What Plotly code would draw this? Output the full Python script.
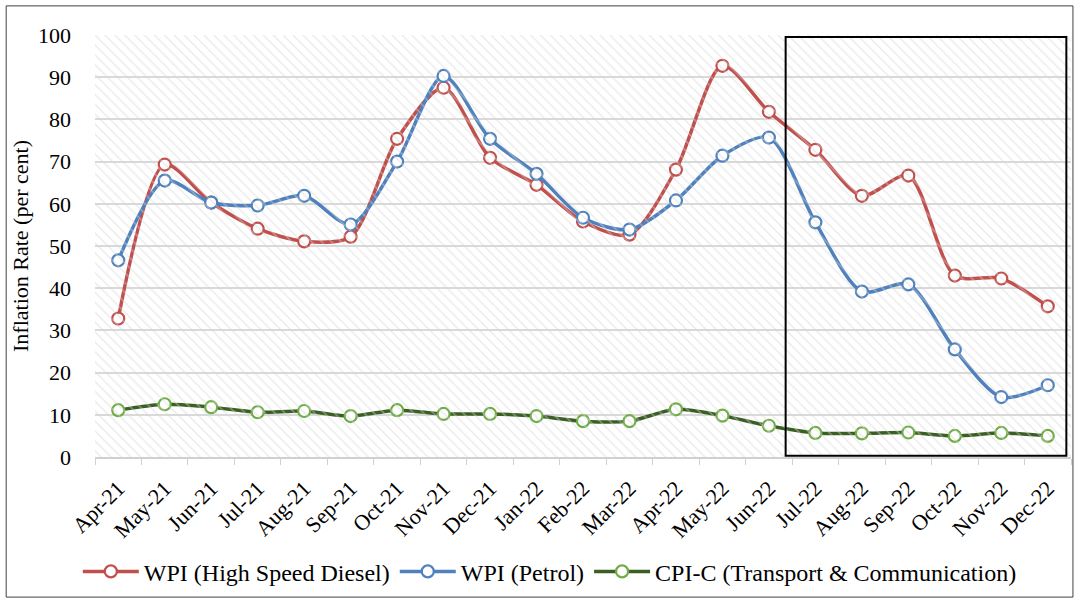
import plotly.graph_objects as go

months = ["Apr-21", "May-21", "Jun-21", "Jul-21", "Aug-21", "Sep-21", "Oct-21", "Nov-21",
          "Dec-21", "Jan-22", "Feb-22", "Mar-22", "Apr-22", "May-22", "Jun-22", "Jul-22",
          "Aug-22", "Sep-22", "Oct-22", "Nov-22", "Dec-22"]
diesel = [32.8, 69.3, 60.3, 54.1, 51.1, 52.2, 75.4, 87.5, 70.9, 64.5, 55.8, 52.7,
          68.1, 92.7, 81.8, 72.8, 61.9, 66.7, 43.0, 42.3, 35.7]
petrol = [46.6, 65.5, 60.3, 59.6, 61.9, 55.1, 70.0, 90.3, 75.4, 67.1, 56.7, 53.9,
          60.8, 71.4, 75.7, 55.6, 39.2, 40.9, 25.5, 14.2, 17.0]
cpi_tc = [11.1, 12.5, 11.8, 10.6, 10.9, 9.7, 11.1, 10.2, 10.2, 9.7, 8.5, 8.5,
          11.3, 9.8, 7.4, 5.7, 5.6, 5.8, 5.0, 5.7, 5.0]
yticks = [0, 10, 20, 30, 40, 50, 60, 70, 80, 90, 100]

FONT = "Liberation Serif"

fig = go.Figure()

# hatched plot-area background
fig.add_trace(go.Scatter(
    x=[0, 1, 1, 0, 0], y=[0, 0, 1, 1, 0], xaxis="x2", yaxis="y2",
    mode="lines", line=dict(width=0), fill="toself", fillcolor="rgba(0,0,0,0)",
    fillpattern=dict(shape="\\", fgcolor="#D6D6D6", bgcolor="rgba(255,255,255,0)",
                     size=7, solidity=0.2),
    hoverinfo="skip", showlegend=False))

series = [
    ("WPI (High Speed Diesel)", diesel, "#C0504D", "#C0504D"),
    ("WPI (Petrol)", petrol, "#4F81BD", "#4F81BD"),
    ("CPI-C (Transport & Communication)", cpi_tc, "#3A5F23", "#70AD47"),
]
for name, vals, lc, mc in series:
    fig.add_trace(go.Scatter(
        x=months, y=vals, name=name, mode="lines+markers",
        line=dict(color=lc, width=3.5, shape="spline", smoothing=0.8),
        marker=dict(symbol="circle", size=12, color="white",
                    line=dict(color=mc, width=2.2))))

fig.update_layout(
    width=1079, height=603,
    margin=dict(l=95, r=8, t=35, b=146, autoexpand=False),
    paper_bgcolor="white", plot_bgcolor="rgba(0,0,0,0)",
    font=dict(family=FONT, size=20, color="black"),
    showlegend=True,
    legend=dict(orientation="h", x=0.466, xanchor="center", y=-0.272, yanchor="middle",
                font=dict(family=FONT, size=24), itemwidth=56, traceorder="normal"),
    xaxis=dict(type="category", range=[-0.5, 20.5], showgrid=False,
               showline=True, linecolor="#D0D0D0", linewidth=1.5,
               ticks="outside", tickson="boundaries", ticklen=6, tickcolor="#D0D0D0",
               tickangle=-45, tickfont=dict(family=FONT, size=22), ticklabelstandoff=8),
    yaxis=dict(range=[0, 100], tickvals=yticks, showgrid=True, gridcolor="#D9D9D9",
               gridwidth=1.5, zeroline=False, showline=False,
               tickfont=dict(family=FONT, size=22), ticklabelstandoff=23,
               title=dict(text="Inflation Rate (per cent)", font=dict(family=FONT, size=22),
                          standoff=3)),
    xaxis2=dict(range=[0, 1], visible=False, overlaying="x"),
    yaxis2=dict(range=[0, 1], visible=False, overlaying="y"),
    shapes=[
        dict(type="rect", xref="x", yref="y", x0=14.36, x1=20.4, y0=0.3, y1=99.5,
             line=dict(color="black", width=2), fillcolor="rgba(0,0,0,0)", layer="above"),
        dict(type="rect", xref="paper", yref="paper", x0=-0.091, x1=1.002, y0=-0.332, y1=1.069,
             line=dict(color="#404040", width=1), fillcolor="rgba(0,0,0,0)"),
    ],
)

fig.write_html("out.html", config={"displayModeBar": False},
               post_script="document.body.style.margin='0';")
